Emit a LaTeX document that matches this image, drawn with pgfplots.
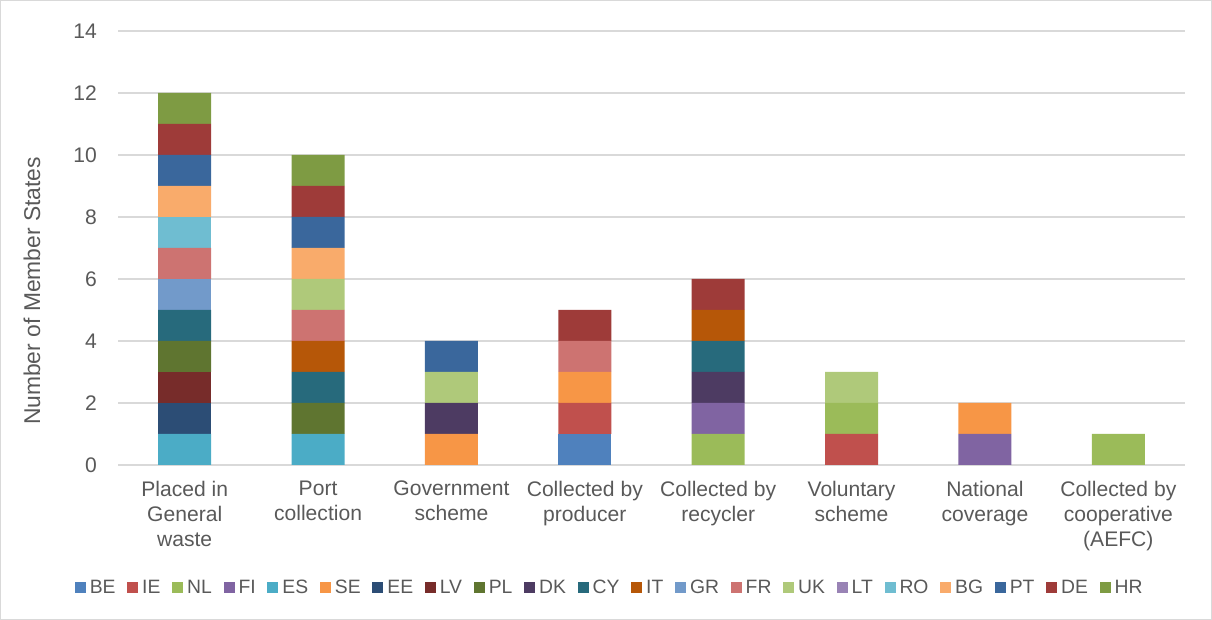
\documentclass[border=0pt]{standalone}
\usepackage{pgfplots}
\usepackage{pgfplotstable}
\usepackage{fontspec}
\setmainfont{Liberation Sans}
\pgfplotsset{compat=1.18}

\definecolor{cBE}{HTML}{4F81BD}
\definecolor{cIE}{HTML}{C0504D}
\definecolor{cNL}{HTML}{9BBB59}
\definecolor{cFI}{HTML}{8064A2}
\definecolor{cES}{HTML}{4BACC6}
\definecolor{cSE}{HTML}{F79646}
\definecolor{cEE}{HTML}{2C4D75}
\definecolor{cLV}{HTML}{772C2A}
\definecolor{cPL}{HTML}{5F7530}
\definecolor{cDK}{HTML}{4D3B62}
\definecolor{cCY}{HTML}{276A7C}
\definecolor{cIT}{HTML}{B65708}
\definecolor{cGR}{HTML}{729ACA}
\definecolor{cFR}{HTML}{CD7371}
\definecolor{cUK}{HTML}{AFC97A}
\definecolor{cLT}{HTML}{9983B5}
\definecolor{cRO}{HTML}{6FBDD1}
\definecolor{cBG}{HTML}{F9AB6B}
\definecolor{cPT}{HTML}{3A679C}
\definecolor{cDE}{HTML}{9E3B39}
\definecolor{cHR}{HTML}{7E9B43}
\definecolor{gridgray}{HTML}{D9D9D9}
\definecolor{txtgray}{HTML}{595959}

% one row per collection route, one column per Member State (1 = uses that route)
\pgfplotstableread{
x BE IE NL FI ES SE EE LV PL DK CY IT GR FR UK LT RO BG PT DE HR
0 0  0  0  0  1  0  1  1  1  0  1  0  1  1  0  0  1  1  1  1  1
1 0  0  0  0  1  0  0  0  1  0  1  1  0  1  1  0  0  1  1  1  1
2 0  0  0  0  0  1  0  0  0  1  0  0  0  0  1  0  0  0  1  0  0
3 1  1  0  0  0  1  0  0  0  0  0  0  0  1  0  0  0  0  0  1  0
4 0  0  1  1  0  0  0  0  0  1  1  1  0  0  0  0  0  0  0  1  0
5 0  1  1  0  0  0  0  0  0  0  0  0  0  0  1  0  0  0  0  0  0
6 0  0  0  1  0  1  0  0  0  0  0  0  0  0  0  0  0  0  0  0  0
7 0  0  1  0  0  0  0  0  0  0  0  0  0  0  0  0  0  0  0  0  0
}\routes

\begin{document}
\begin{tikzpicture}
% page frame
\path[use as bounding box] (0,0) rectangle (36.36,18.6);
\draw[gridgray, line width=0.9pt] (0.015,0.015) rectangle (36.345,18.585);

\begin{axis}[
  at={(3.54cm,4.65cm)}, anchor=south west,
  scale only axis,
  width=32.01cm, height=13.02cm,
  ybar stacked,
  bar width=1.59cm,
  xmin=-0.5, xmax=7.5,
  ymin=0, ymax=14,
  ytick={0,2,...,14},
  xtick={0,...,7},
  xticklabels={{Placed in\\General\\waste},{Port\\collection},{Government\\scheme},{Collected by\\producer},{Collected by\\recycler},{Voluntary\\scheme},{National\\coverage},{Collected by\\cooperative\\(AEFC)}},
  major tick length=0pt,
  axis line style={draw=none},
  ymajorgrids,
  grid style={gridgray, line width=0.9pt},
  /pgf/number format/assume math mode=true,
  tick label style={font=\fontsize{18}{21.3}\selectfont, text=txtgray},
  xticklabel style={align=center, anchor=north, inner sep=0pt, yshift=-0.48cm},
  yticklabel style={anchor=east, inner sep=0pt, xshift=-0.63cm},
  legend columns=21,
  legend style={
    at={(0.461,-0.283)}, anchor=center,
    draw=none, fill=none,
    font=\fontsize{16.5}{18}\selectfont, text=txtgray,
    /tikz/every even column/.append style={column sep=0.28cm},
    /tikz/every odd column/.append style={column sep=0.05cm},
  },
  legend image code/.code={\fill[#1] (0cm,-0.165cm) rectangle (0.33cm,0.165cm);},
  every axis plot/.append style={draw=none},
]
\addplot[fill=cBE] table[y=BE] {\routes}; \addlegendentry{BE}
\addplot[fill=cIE] table[y=IE] {\routes}; \addlegendentry{IE}
\addplot[fill=cNL] table[y=NL] {\routes}; \addlegendentry{NL}
\addplot[fill=cFI] table[y=FI] {\routes}; \addlegendentry{FI}
\addplot[fill=cES] table[y=ES] {\routes}; \addlegendentry{ES}
\addplot[fill=cSE] table[y=SE] {\routes}; \addlegendentry{SE}
\addplot[fill=cEE] table[y=EE] {\routes}; \addlegendentry{EE}
\addplot[fill=cLV] table[y=LV] {\routes}; \addlegendentry{LV}
\addplot[fill=cPL] table[y=PL] {\routes}; \addlegendentry{PL}
\addplot[fill=cDK] table[y=DK] {\routes}; \addlegendentry{DK}
\addplot[fill=cCY] table[y=CY] {\routes}; \addlegendentry{CY}
\addplot[fill=cIT] table[y=IT] {\routes}; \addlegendentry{IT}
\addplot[fill=cGR] table[y=GR] {\routes}; \addlegendentry{GR}
\addplot[fill=cFR] table[y=FR] {\routes}; \addlegendentry{FR}
\addplot[fill=cUK] table[y=UK] {\routes}; \addlegendentry{UK}
\addplot[fill=cLT] table[y=LT] {\routes}; \addlegendentry{LT}
\addplot[fill=cRO] table[y=RO] {\routes}; \addlegendentry{RO}
\addplot[fill=cBG] table[y=BG] {\routes}; \addlegendentry{BG}
\addplot[fill=cPT] table[y=PT] {\routes}; \addlegendentry{PT}
\addplot[fill=cDE] table[y=DE] {\routes}; \addlegendentry{DE}
\addplot[fill=cHR] table[y=HR] {\routes}; \addlegendentry{HR}
\end{axis}

\node[rotate=90, text=txtgray, font=\fontsize{19.5}{22}\selectfont, inner sep=0pt]
  at (0.96,9.87) {Number of Member States};
\end{tikzpicture}
\end{document}
